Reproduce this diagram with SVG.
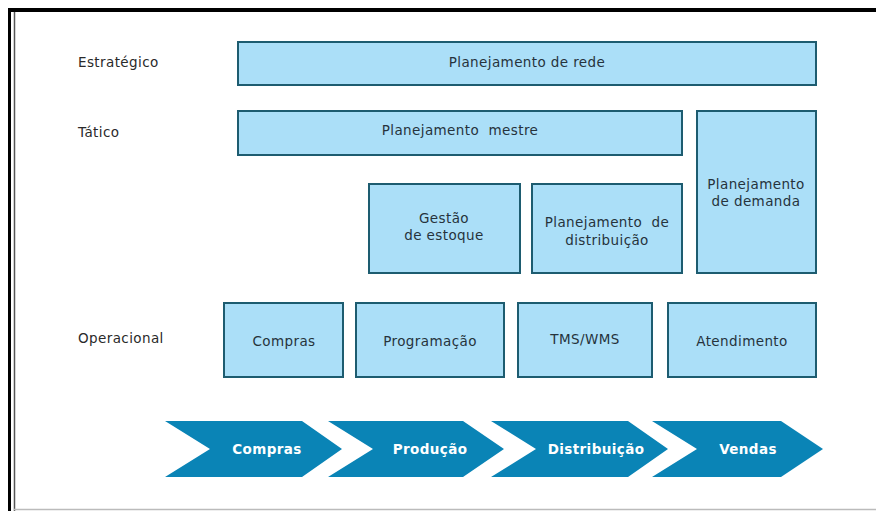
<svg xmlns="http://www.w3.org/2000/svg" width="876" height="511" viewBox="0 0 876 511">
<style>
.box{fill:#abdff8;stroke:#1d5c70;stroke-width:2}
.chev{fill:#0a84b6}
.t{font-family:"DejaVu Sans","Liberation Sans",sans-serif;font-size:13.5px;fill:#26333c;text-anchor:middle;letter-spacing:0.4px;white-space:pre}
.lbl{font-family:"DejaVu Sans","Liberation Sans",sans-serif;font-size:13.5px;fill:#2a2a2a;letter-spacing:0.4px}
.ct{font-family:"DejaVu Sans","Liberation Sans",sans-serif;font-size:13.5px;font-weight:bold;fill:#ffffff;text-anchor:middle;letter-spacing:0.4px}
</style>
<rect width="876" height="511" fill="#ffffff"/>
<g id="frame">
<line x1="8" y1="10" x2="876" y2="10" stroke="#000" stroke-width="4"/>
<line x1="9.5" y1="8" x2="9.5" y2="511" stroke="#000" stroke-width="3"/>
<line x1="14.5" y1="12" x2="14.5" y2="511" stroke="#555" stroke-width="1.5"/>
<line x1="14" y1="509.5" x2="876" y2="509.5" stroke="#bbb" stroke-width="1.5"/>
</g>
<g id="levels">
<text class="lbl" x="78" y="67">Estratégico</text>
<text class="lbl" x="78" y="137">Tático</text>
<text class="lbl" x="78" y="343">Operacional</text>
</g>
<g id="rede"><rect class="box" x="238" y="42" width="578" height="43"/><text class="t" x="527" y="67">Planejamento de rede</text></g>
<g id="mestre"><rect class="box" x="238" y="111" width="444" height="44"/><text class="t" x="460" y="135" xml:space="preserve">Planejamento  mestre</text></g>
<g id="demanda"><rect class="box" x="697" y="111" width="119" height="162"/><text class="t" x="756" y="189">Planejamento</text><text class="t" x="756" y="206">de demanda</text></g>
<g id="estoque"><rect class="box" x="369" y="184" width="151" height="89"/><text class="t" x="444" y="223">Gestão</text><text class="t" x="444" y="240">de estoque</text></g>
<g id="distribuicao"><rect class="box" x="532" y="184" width="150" height="89"/><text class="t" x="607" y="227" xml:space="preserve">Planejamento  de</text><text class="t" x="607" y="245">distribuição</text></g>
<g id="compras"><rect class="box" x="224" y="303" width="119" height="74"/><text class="t" x="284" y="346">Compras</text></g>
<g id="programacao"><rect class="box" x="356" y="303" width="148" height="74"/><text class="t" x="430" y="346">Programação</text></g>
<g id="tms"><rect class="box" x="518" y="303" width="134" height="74"/><text class="t" x="585" y="344">TMS/WMS</text></g>
<g id="atendimento"><rect class="box" x="668" y="303" width="148" height="74"/><text class="t" x="742" y="346">Atendimento</text></g>
<g id="connectors"></g>
<g id="chevrons">
<g id="c1"><polygon class="chev" points="165,421 302,421 342,449 302,477 165,477 210,449"/><text class="ct" x="267" y="454">Compras</text></g>
<g id="c2"><polygon class="chev" points="328,421 463,421 504,449 463,477 328,477 373,449"/><text class="ct" x="430" y="454">Produção</text></g>
<g id="c3"><polygon class="chev" points="491,421 628,421 668,449 628,477 491,477 536,449"/><text class="ct" x="596" y="454">Distribuição</text></g>
<g id="c4"><polygon class="chev" points="652,421 781,421 823,449 781,477 652,477 697,449"/><text class="ct" x="748" y="454">Vendas</text></g>
</g>
</svg>
